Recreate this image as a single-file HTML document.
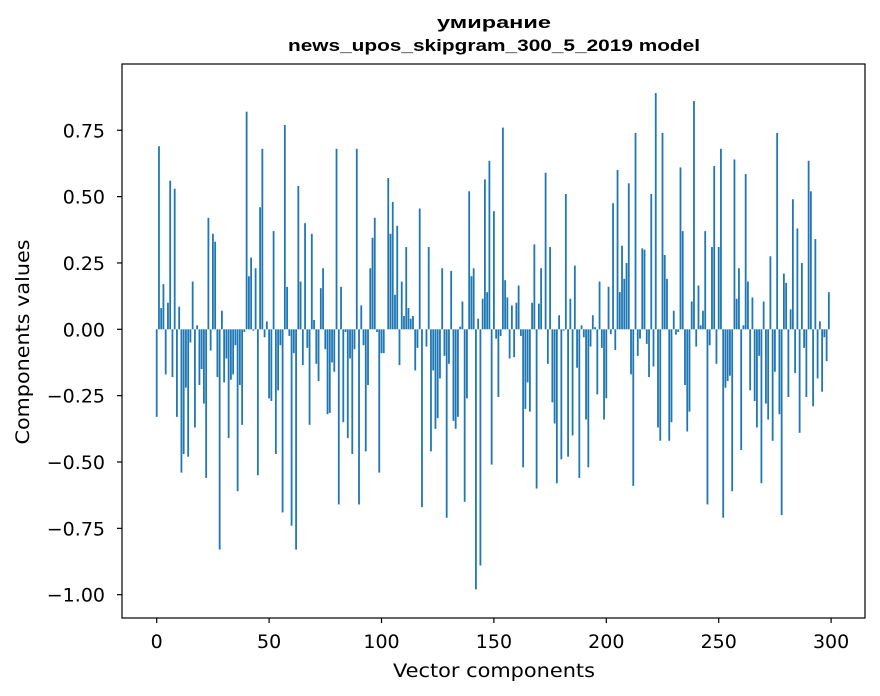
<!DOCTYPE html>
<html><head><meta charset="utf-8"><style>
html,body{margin:0;padding:0;background:#fff;}
svg{display:block;font-family:"DejaVu Sans","Liberation Sans",sans-serif;}
</style></head><body>
<svg id="chart" width="880" height="696" viewBox="0 0 880 696" xmlns="http://www.w3.org/2000/svg">
<rect x="0" y="0" width="880" height="696" fill="#fff"/>
<text x="494" y="28" text-anchor="middle" font-size="17" font-weight="bold" font-family="Liberation Sans, sans-serif" textLength="114" lengthAdjust="spacingAndGlyphs">умирание</text>
<text x="494" y="51" text-anchor="middle" font-size="17" font-weight="bold" font-family="Liberation Sans, sans-serif" textLength="412" lengthAdjust="spacingAndGlyphs">news_upos_skipgram_300_5_2019 model</text>
<g id="bars"></g>
<g id="axes"></g>
<text x="494" y="677" text-anchor="middle" font-size="19" textLength="202" lengthAdjust="spacingAndGlyphs">Vector components</text>
<text transform="translate(29,342) rotate(-90)" text-anchor="middle" font-size="19" textLength="205" lengthAdjust="spacingAndGlyphs">Components values</text>
</svg>
<script>
const values = [
-0.33,0.69,0.08,0.17,-0.17,0.10,0.56,-0.18,0.53,-0.33,
0.085,-0.54,-0.47,-0.22,-0.48,-0.05,0.18,-0.37,0.015,-0.21,
-0.15,-0.28,-0.56,0.42,-0.08,0.36,0.33,-0.18,-0.83,0.07,
-0.20,-0.11,-0.41,-0.19,-0.17,-0.06,-0.61,-0.21,-0.36,-0.01,
0.82,0.20,0.27,-0.005,0.23,-0.55,0.46,0.68,-0.03,0.03,
-0.26,-0.27,0.37,-0.47,-0.23,-0.06,-0.69,0.77,0.16,-0.025,
-0.74,-0.09,-0.83,0.54,0.18,-0.135,0.40,-0.07,-0.36,0.36,
0.035,-0.13,-0.195,0.155,0.23,-0.075,-0.32,-0.315,-0.125,-0.16,
0.68,-0.66,0.16,-0.35,-0.01,-0.41,-0.11,-0.47,-0.075,0.68,
-0.66,0.09,-0.06,-0.46,-0.21,0.23,0.345,0.42,-0.01,-0.54,
-0.09,-0.09,0.0,0.57,0.36,0.48,0.13,0.39,-0.135,0.18,
0.05,0.31,0.08,0.04,0.05,-0.155,-0.07,0.455,-0.67,0.0,
-0.065,0.31,-0.46,-0.155,-0.375,-0.335,-0.185,0.23,-0.10,-0.71,
-0.13,0.22,-0.345,-0.375,-0.33,0.01,0.105,-0.65,-0.26,0.52,
0.20,0.23,-0.98,0.04,-0.89,0.115,0.565,0.14,0.635,-0.51,
0.445,-0.035,-0.255,-0.025,0.76,0.185,0.12,-0.11,0.09,-0.105,
0.10,0.165,-0.025,-0.52,-0.30,-0.20,-0.31,0.10,0.32,-0.60,
0.097,0.23,0.0,0.59,-0.13,0.31,-0.275,-0.355,-0.58,0.053,
-0.49,-0.005,0.51,-0.48,0.115,-0.40,0.24,-0.145,-0.56,0.015,
-0.03,-0.34,-0.52,-0.065,0.053,0.008,-0.245,0.18,-0.07,-0.34,
-0.26,0.16,-0.018,0.475,-0.078,0.60,0.14,0.315,0.19,0.25,
0.55,-0.17,-0.59,0.74,-0.10,-0.035,0.305,0.30,-0.055,-0.18,
0.51,-0.14,0.89,-0.37,-0.42,0.74,0.28,0.19,-0.42,-0.35,
0.07,-0.02,-0.01,0.61,0.37,-0.21,-0.385,-0.31,0.105,0.86,
-0.065,0.165,0.015,0.07,0.37,-0.66,-0.06,0.31,0.615,-0.13,
0.31,0.68,-0.71,-0.22,-0.195,-0.175,-0.61,0.64,0.115,0.23,
-0.455,0.015,0.585,0.18,-0.23,0.12,-0.27,-0.37,-0.10,-0.58,
0.105,-0.28,-0.34,0.275,-0.42,-0.16,0.74,-0.32,-0.70,0.21,
0.175,-0.255,0.075,0.49,-0.165,0.38,-0.39,0.25,-0.07,-0.255,
0.635,0.52,-0.29,0.34,-0.185,0.03,-0.235,-0.03,-0.12,0.14
];
const xTicks = [0,50,100,150,200,250,300];
const yTicks = [-1.00,-0.75,-0.50,-0.25,0.00,0.25,0.50,0.75];

const NS = "http://www.w3.org/2000/svg";
const L = 122, R = 865, T = 64, B = 618;
function xs(v){ return 156.7 + 2.248 * v; }
function ys(v){ return 329.3 - 265.4 * v; }

const barsG = document.getElementById('bars');
values.forEach((v, i) => {
  const r = document.createElementNS(NS, 'rect');
  const w = 0.8 * 2.248;
  r.setAttribute('x', xs(i) - w / 2);
  r.setAttribute('width', w);
  r.setAttribute('y', Math.min(ys(v), ys(0)));
  r.setAttribute('height', Math.max(Math.abs(ys(v) - ys(0)), 0.01));
  r.setAttribute('fill', '#1f77b4');
  
  
  barsG.appendChild(r);
});

const ax = document.getElementById('axes');
const frame = document.createElementNS(NS, 'rect');
frame.setAttribute('x', L); frame.setAttribute('y', T);
frame.setAttribute('width', R - L); frame.setAttribute('height', B - T);
frame.setAttribute('fill', 'none'); frame.setAttribute('stroke', '#000'); frame.setAttribute('stroke-width', '1.2');


ax.appendChild(frame);

xTicks.forEach(t => {
  const ln = document.createElementNS(NS, 'line');
  ln.setAttribute('x1', xs(t)); ln.setAttribute('x2', xs(t));
  ln.setAttribute('y1', B); ln.setAttribute('y2', B + 5);
  ln.setAttribute('stroke', '#000'); ln.setAttribute('stroke-width', '1.2');
  
  
  ax.appendChild(ln);
  const tx = document.createElementNS(NS, 'text');
  tx.setAttribute('x', xs(t)); tx.setAttribute('y', B + 30);
  tx.setAttribute('text-anchor', 'middle'); tx.setAttribute('font-size', '19');
  tx.textContent = String(t);
  
  
  ax.appendChild(tx);
});
yTicks.forEach(t => {
  const ln = document.createElementNS(NS, 'line');
  ln.setAttribute('x1', L - 5); ln.setAttribute('x2', L);
  ln.setAttribute('y1', ys(t)); ln.setAttribute('y2', ys(t));
  ln.setAttribute('stroke', '#000'); ln.setAttribute('stroke-width', '1.2');
  
  
  ax.appendChild(ln);
  const tx = document.createElementNS(NS, 'text');
  tx.setAttribute('x', L - 17); tx.setAttribute('y', ys(t) + 7);
  tx.setAttribute('text-anchor', 'end'); tx.setAttribute('font-size', '19');
  tx.textContent = (t < 0 ? '\u2212' : '') + Math.abs(t).toFixed(2);
  
  
  ax.appendChild(tx);
});
</script>
</body></html>
